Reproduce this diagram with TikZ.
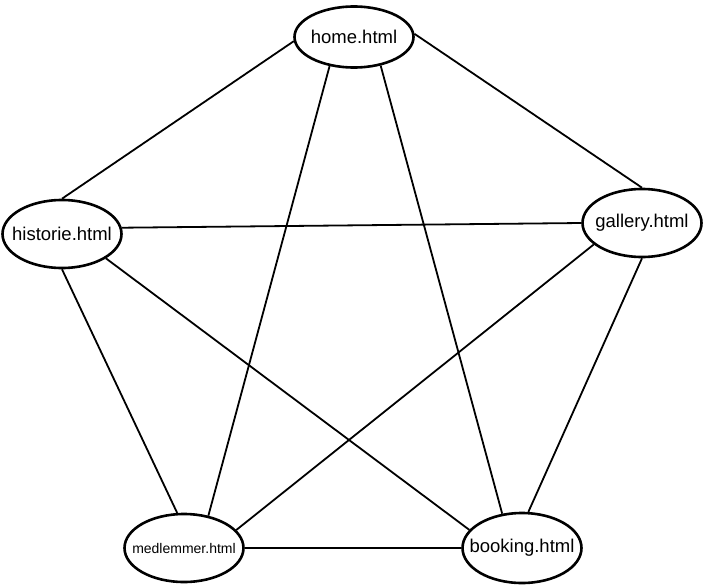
\documentclass[tikz,border=0pt]{standalone}
\usepackage{fontspec}
\setmainfont{Liberation Sans}
\usetikzlibrary{shapes.geometric}

\begin{document}
\begin{tikzpicture}[x=1pt,y=-1pt,
  seite/.style={draw,ellipse,line width=2.6pt,minimum width=119pt,minimum height=68pt,inner xsep=-14pt,inner ysep=0pt,font=\fontsize{18.5}{20}\selectfont},
  lenke/.style={line width=1.8pt}
]
\useasboundingbox (0,0) rectangle (704,584);
\node[seite,minimum height=61pt] (home) at (354,37) {home.html};
\node[seite] (hist) at (62,234) {historie.html};
\node[seite] (gall) at (642,223) {gallery.html};
\node[seite,font=\fontsize{14}{16}\selectfont] (medl) at (184,548) {medlemmer.html};
\node[seite,minimum height=70pt] (book) at (522,548) {booking.html};
% kantene treffer ellipsene i faste vinkler
\draw[lenke] (home.184)--(hist.90);
\draw[lenke] (home.3)--(gall.90);
\draw[lenke] (home.230)--(medl.53);
\draw[lenke] (home.313)--(book.120);
\draw[lenke] (hist.6)--(gall.180);
\draw[lenke] (hist.270)--(medl.101);
\draw[lenke] (hist.331)--(book.161);
\draw[lenke] (gall.204)--(medl.19);
\draw[lenke] (gall.270)--(book.80);
\draw[lenke] (medl.0)--(book.180);
\end{tikzpicture}
\end{document}
